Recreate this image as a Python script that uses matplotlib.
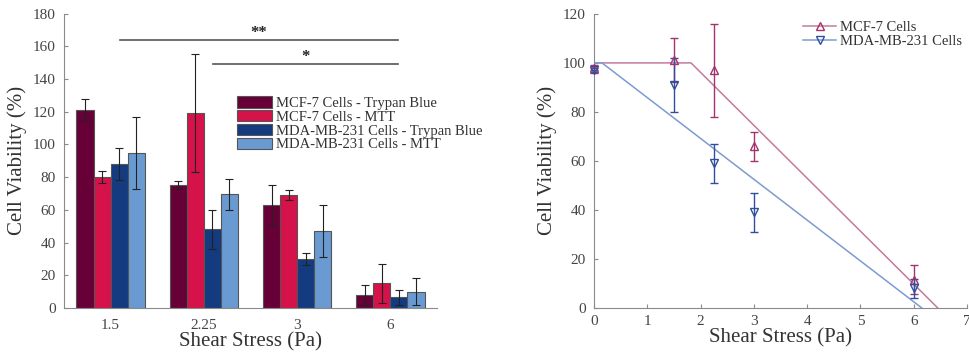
import numpy as np
import matplotlib
matplotlib.use("Agg")
import matplotlib.pyplot as plt

plt.rcParams['font.family'] = ['Liberation Serif', 'DejaVu Serif']

# ---- Bar chart data ----
stress_labels = ["1.5", "2.25", "3", "6"]
bar_series = ["MCF-7 Cells - Trypan Blue", "MCF-7 Cells - MTT",
              "MDA-MB-231 Cells - Trypan Blue", "MDA-MB-231 Cells - MTT"]
mcf7_trypan = [121, 75, 63, 8]
mcf7_trypan_err = [6.5, 2.5, 12, 6]
mcf7_mtt = [80, 119, 69, 15]
mcf7_mtt_err = [3.5, 36, 3, 12]
mda_trypan = [88, 48, 30, 6.5]
mda_trypan_err = [10, 12, 3.5, 4.5]
mda_mtt = [95, 69.5, 47, 10]
mda_mtt_err = [22, 9.5, 16, 8.5]
bar_colors = ["#660036", "#D5124A", "#143B80", "#6A9AD2"]

# significance brackets: (start group, end group, height, label)
sig_start = [1.1, 2.1]
sig_end = [4.08, 4.08]
sig_height = [164, 149]
sig_label = ["**", "*"]

# ---- Scatter / fit data ----
line_series = ["MCF-7 Cells", "MDA-MB-231 Cells"]
stress_pa = [0, 1.5, 2.25, 3, 6]
mcf7_viab = [98, 101, 97, 66, 11.5]
mcf7_viab_err = [1, 9, 19, 6, 6]
mda_viab = [97, 91, 59, 39, 8]
mda_viab_err = [1, 11, 8, 8, 4]
# piecewise fit: 100 % until threshold, then linear to zero
fit_threshold = [1.82, 0.15]
fit_zero = [6.45, 6.15]

fig = plt.figure(figsize=(9.69, 3.56), dpi=100)
tick_col = "#444444"
spine_col = "#8a8a8a"

# ================= Left: bar chart =================
ax1 = fig.add_axes([0.066, 0.135, 0.385, 0.827])
x = np.arange(1, len(stress_labels) + 1)
w = 0.183
all_vals = [mcf7_trypan, mcf7_mtt, mda_trypan, mda_mtt]
all_errs = [mcf7_trypan_err, mcf7_mtt_err, mda_trypan_err, mda_mtt_err]
for i, (vals, errs) in enumerate(zip(all_vals, all_errs)):
    off = (i - 1.5) * w
    ax1.bar(x + off, vals, width=w, color=bar_colors[i], edgecolor="#555555",
            linewidth=0.8, label=bar_series[i], zorder=2)
    ax1.errorbar(x + off, vals, yerr=errs, fmt="none", ecolor="#222222",
                 elinewidth=0.8, capsize=3, capthick=0.8, zorder=3)

for s, e, h, lab in zip(sig_start, sig_end, sig_height, sig_label):
    ax1.plot([s, e], [h, h], color="#555555", lw=1.2)
    ax1.text((s + e) / 2, h - 0.5, lab, ha="center", va="bottom",
             fontsize=12, fontweight="bold", color="#222222")

ax1.set_xlim(0.5, 4.5)
ax1.set_ylim(0, 180)
ax1.set_yticks(np.arange(0, 181, 20))
ax1.set_xticks(x)
ax1.set_xticklabels(stress_labels)
ax1.tick_params(axis="y", direction="in", length=3, color=spine_col,
                labelsize=11, labelcolor=tick_col, pad=6)
ax1.tick_params(axis="x", length=0, labelsize=11, labelcolor=tick_col, pad=8)
for sp in ["top", "right"]:
    ax1.spines[sp].set_visible(False)
for sp in ["left", "bottom"]:
    ax1.spines[sp].set_color(spine_col)
ax1.set_xlabel("Shear Stress (Pa)", fontsize=15, color="#333333", labelpad=0)
ax1.set_ylabel("Cell Viability (%)", fontsize=15, color="#333333", labelpad=4)
leg1 = ax1.legend(loc="upper left", bbox_to_anchor=(0.465, 0.72), frameon=False,
                  fontsize=10.5, handlelength=2.4, handleheight=0.85,
                  labelspacing=0.0, handletextpad=0.25, borderpad=0,
                  borderaxespad=0)
for t in leg1.get_texts():
    t.set_color("#333333")

# ================= Right: scatter with fit =================
ax2 = fig.add_axes([0.613, 0.135, 0.385, 0.826])
mcf_mark = "#A3336B"
mcf_line = "#C47A9E"
mda_mark = "#2F4F9C"
mda_line = "#7D9BD0"
xs = np.linspace(0, 7, 701)
lines_cfg = [
    (mcf7_viab, mcf7_viab_err, "^", mcf_mark, mcf_line, fit_threshold[0], fit_zero[0]),
    (mda_viab, mda_viab_err, "v", mda_mark, mda_line, fit_threshold[1], fit_zero[1]),
]
for k, (vals, errs, mk, mc, lc, thr, zr) in enumerate(lines_cfg):
    fit = np.where(xs <= thr, 100.0, 100.0 * (zr - xs) / (zr - thr))
    keep = fit >= 0
    ax2.plot(xs[keep], fit[keep], color=lc, lw=1.1, zorder=2)
    eb = ax2.errorbar(stress_pa, vals, yerr=errs, fmt="none", ecolor=mc,
                      elinewidth=1.0, capsize=3, capthick=1.0, zorder=3)
    for art in eb.get_children():
        art.set_clip_on(False)
    ax2.plot(stress_pa, vals, linestyle="none", marker=mk, markersize=6,
             markerfacecolor="none", markeredgecolor=mc, markeredgewidth=1.0,
             zorder=4, clip_on=False)
    # legend proxy
    ax2.plot([], [], color=lc, lw=1.1, marker=mk, markersize=6,
             markerfacecolor="none", markeredgecolor=mc,
             label=line_series[k])

ax2.set_xlim(0, 7)
ax2.set_ylim(0, 120)
ax2.set_xticks(np.arange(0, 8, 1))
ax2.set_yticks(np.arange(0, 121, 20))
ax2.tick_params(axis="both", direction="in", length=3, color=spine_col,
                labelsize=11, labelcolor=tick_col)
ax2.tick_params(axis="y", pad=6)
ax2.tick_params(axis="x", pad=5)
for sp in ["top", "right"]:
    ax2.spines[sp].set_visible(False)
for sp in ["left", "bottom"]:
    ax2.spines[sp].set_color(spine_col)
ax2.set_xlabel("Shear Stress (Pa)", fontsize=15, color="#333333", labelpad=0)
ax2.set_ylabel("Cell Viability (%)", fontsize=15, color="#333333", labelpad=4)
leg2 = ax2.legend(loc="upper left", bbox_to_anchor=(0.56, 0.975), frameon=False,
                  fontsize=10.5, handlelength=2.3, labelspacing=0.0,
                  handletextpad=0.25, borderpad=0, borderaxespad=0)
for t in leg2.get_texts():
    t.set_color("#333333")

fig.savefig("out.png", dpi=100)
